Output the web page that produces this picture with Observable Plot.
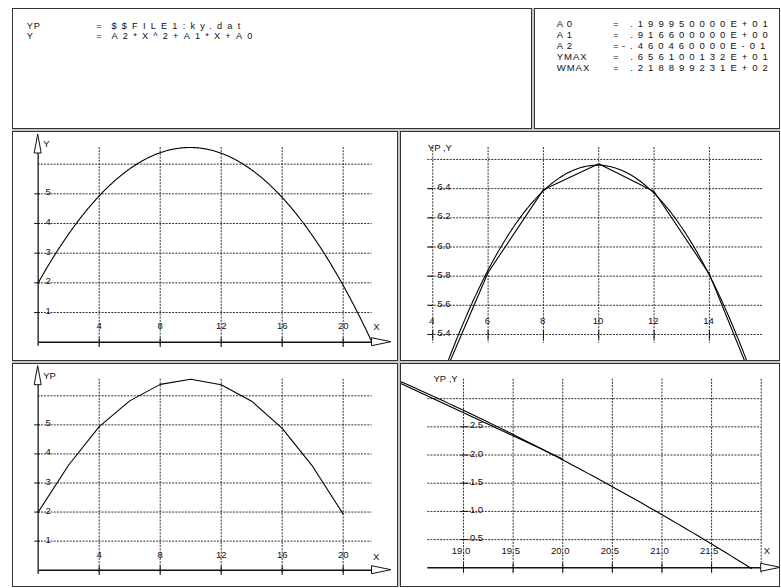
<!DOCTYPE html>
<html>
<head>
<meta charset="utf-8">
<script src="https://cdn.jsdelivr.net/npm/d3@7"></script>
<script src="https://cdn.jsdelivr.net/npm/@observablehq/plot@0.6"></script>
<style>
  html, body { margin: 0; padding: 0; background: #fff; }
  #sheet { position: relative; width: 781px; height: 588px; overflow: hidden; background: #fff; }
  #frame { position: absolute; left: 12px; top: 8px; width: 768px; height: 579px; background: #c6c6c6; }
  .box { position: absolute; box-sizing: border-box; border: 1px solid #333; background: #fff; overflow: hidden; }
  .box svg { position: absolute; left: 0; top: 0; }
  #header { position: absolute; left: 0; top: 0; }
  #header text { font-family: "Liberation Sans", Arial, sans-serif; font-size: 9.5px; fill: #111; }
  #header .def { font-size: 9.2px; }
  #header .name { letter-spacing: 1px; }
  #header .coef { letter-spacing: 3.8px; }
  #header .val { letter-spacing: 5px; }
  #header .def.val { letter-spacing: 5.2px; }
  g[aria-label="decimal tick label"] text { letter-spacing: 4.3px; }
  g[aria-label="title"] text { letter-spacing: 0.8px; }
  g[aria-label="wide title"] text { letter-spacing: 2.6px; }
</style>
</head>
<body>
<div id="sheet"><div id="frame"></div></div>
<script>
// Fitted parabola Y = A2*X^2 + A1*X + A0 and its summary values
const coefficientNames = ["A0", "A1", "A2"];
const coefficients = [1.9995, 0.9166, -0.046046];
const extremaNames = ["YMAX", "WMAX"];
const extrema = [6.56100132, 21.8899231];   // peak of Y, positive root of Y
const definitionNames = ["YP", "Y"];
const definitions = ["$$FILE1:ky.dat", "A2*X^2+A1*X+A0"];

// YP samples from ky.dat
const ypX = [0, 2, 4, 6, 8, 10, 12, 14, 16, 18, 20];
const ypY = [2.0, 3.62, 4.94, 5.825, 6.393, 6.571, 6.38, 5.814, 4.88, 3.57, 1.93];

// Ticks of the full views
const fullXTicks = [4, 8, 12, 16, 20];
const fullYGrid = [1, 2, 3, 4, 5, 6];
const fullYLabels = [1, 2, 3, 4, 5];
// Ticks of the view around the peak
const peakXTicks = [4, 6, 8, 10, 12, 14];
const peakYGrid = [5.4, 5.6, 5.8, 6.0, 6.2, 6.4, 6.6];
const peakYLabels = [5.4, 5.6, 5.8, 6.0, 6.2, 6.4];
// Ticks of the view around the root
const rootXGrid = [19.0, 19.5, 20.0, 20.5, 21.0, 21.5, 22.0];
const rootXLabels = [19.0, 19.5, 20.0, 20.5, 21.0, 21.5];
const rootYGrid = [0.5, 1.0, 1.5, 2.0, 2.5, 3.0];
const rootYLabels = [0.5, 1.0, 1.5, 2.0, 2.5];

// Windows of the two zoomed views
const peakWindowX = [3.82, 15.92], peakWindowY = [5.4, 6.682];
const rootWindowX = [18.64, 22.0], rootWindowY = [0, 3.345];
const curveEnd = 21.93, curveStep = 0.05;

const [A0, A1, A2] = coefficients;
const [YMAX, WMAX] = extrema;
const yCurve = d3.range(0, curveEnd + 1e-9, curveStep).map(x => ({x, y: A2 * x * x + A1 * x + A0}));
const ypPoints = ypX.map((x, i) => ({x, y: ypY[i]}));

// Fortran-style E format: .dddddddddE+ee
function fortranE(v, digits = 9) {
  const sign = v < 0 ? "-" : "";
  const a = Math.abs(v);
  let e = Math.floor(Math.log10(a)) + 1;
  let m = Math.round(a / 10 ** e * 10 ** digits);
  if (m >= 10 ** digits) { m = Math.round(m / 10); e += 1; }
  return sign + "." + String(m).padStart(digits, "0") + "E" + (e < 0 ? "-" : "+") + String(Math.abs(e)).padStart(2, "0");
}

const sheet = d3.select("#sheet");
function box(left, top, w, h) {
  return sheet.append("div").attr("class", "box")
    .style("left", left + "px").style("top", top + "px")
    .style("width", w + "px").style("height", h + "px");
}
box(12, 8, 520, 121);
box(534, 8, 246, 121);
const boxTL = box(12, 131, 386, 230);
const boxTR = box(400, 131, 380, 230);
const boxBL = box(12, 363, 386, 224);
const boxBR = box(400, 363, 380, 224);

// Header text
const header = sheet.append("svg").attr("id", "header").attr("width", 781).attr("height", 130);
definitionNames.forEach((n, i) => {
  const y = 28.9 + i * 10.4;
  header.append("text").attr("class", "def name").attr("x", 26.7).attr("y", y).text(n);
  header.append("text").attr("class", "def").attr("x", 96.2).attr("y", y).text("=");
  header.append("text").attr("class", "def val").attr("x", 111.5).attr("y", y).text(definitions[i]);
});
const parNames = coefficientNames.concat(extremaNames);
const parValues = coefficients.concat(extrema);
parNames.forEach((n, i) => {
  const y = 26.9 + i * 11.07;
  const s = fortranE(parValues[i]);
  header.append("text").attr("class", n.length === 2 ? "coef" : "name").attr("x", 556.7).attr("y", y).text(n);
  header.append("text").attr("x", 612.9).attr("y", y).text("=");
  header.append("text").attr("class", "val").attr("x", s.startsWith("-") ? 621.9 : 630.2).attr("y", y).text(s);
});

// Open arrowheads at the ends of the axes
const arrowUp = (index, {x}, values, {marginTop}) => {
  const cx = x(0), base = marginTop + 6, tip = marginTop - 13;
  return d3.create("svg:path")
    .attr("d", `M${cx - 3.5},${base}L${cx},${tip}L${cx + 3.5},${base}Z`)
    .attr("fill", "#fff").attr("stroke", "#111").attr("stroke-width", 1).node();
};
const arrowRight = (index, {y}, values, {width, marginRight}) => {
  const bx = width - marginRight, cy = y(0);
  return d3.create("svg:path")
    .attr("d", `M${bx},${cy - 4}L${bx + 19.5},${cy}L${bx},${cy + 4}Z`)
    .attr("fill", "#fff").attr("stroke", "#111").attr("stroke-width", 1).node();
};

const fmtInt = d3.format("d"), fmtDec = d3.format(".1f");

function panel(o) {
  const fx = o.xDecimals ? fmtDec : fmtInt;
  const fy = o.yDecimals ? fmtDec : fmtInt;
  const ink = "#111";
  const grid = {stroke: "#1a1a1a", strokeWidth: 0.9, strokeDasharray: "2,1.2"};
  const marks = [
    Plot.ruleY(o.yGrid, grid),
    Plot.ruleX(o.xGrid, {...grid, insetBottom: -o.gridBelow})
  ];
  if (o.xAxis) marks.push(Plot.ruleY([0], {stroke: ink, strokeWidth: 1.4}));
  if (o.yAxis) marks.push(Plot.ruleX([0], {stroke: "#444", strokeWidth: 1.6, insetBottom: -4}));
  marks.push(
    Plot.ruleX(o.xLabels, {y1: () => o.axisRow, y2: () => o.axisRow, insetTop: -4, insetBottom: -5, stroke: ink}),
    Plot.ruleY(o.yLabels, {x1: () => o.labelX, x2: () => o.labelX, insetLeft: -o.tick[0], insetRight: -o.tick[1], stroke: ink}),
    Plot.text(o.yLabels, {x: () => o.labelX, y: d => d, text: fy, textAnchor: "start", dx: o.yLabelDx, dy: -1.5, fill: ink,
      ariaLabel: o.yDecimals ? "decimal tick label" : "tick label"}),
    Plot.text(o.xLabels, {x: d => d, y: () => o.axisRow, text: fx, textAnchor: o.xLabelAnchor, dx: o.xLabelDx, dy: o.xLabelDy, fill: ink,
      ariaLabel: o.xDecimals ? "decimal tick label" : "tick label"}),
    Plot.text([o.yTitle], {frameAnchor: "top-left", textAnchor: "start", dx: o.yTitleDx, dy: o.yTitleDy, fill: ink, ariaLabel: o.titleAria})
  );
  if (o.xTitle) marks.push(Plot.text(["X"], {y: () => 0, frameAnchor: "right", dx: o.xTitle[0], dy: o.xTitle[1], fill: ink, ariaLabel: "title"}));
  for (const s of o.series) marks.push(Plot.line(s, {x: "x", y: "y", stroke: "#000", strokeWidth: 1.1}));
  if (o.yAxis) marks.push(arrowUp);
  if (o.xTitle) marks.push(arrowRight);
  const svg = Plot.plot({
    width: o.width, height: o.height,
    marginTop: o.margin[0], marginRight: o.margin[1], marginBottom: o.margin[2], marginLeft: o.margin[3],
    x: {domain: o.xDomain, axis: null},
    y: {domain: o.yDomain, axis: null},
    style: {background: "transparent", fontFamily: '"Liberation Sans", Arial, sans-serif', fontSize: "9.5px", color: "#111"},
    marks
  });
  o.host.append(() => svg);
}

// Y over its whole positive range
panel({
  host: boxTL, width: 384, height: 228, margin: [15, 25.5, 18.3, 24.7],
  xDomain: [0, WMAX], yDomain: [0, YMAX],
  xGrid: fullXTicks, yGrid: fullYGrid, xLabels: fullXTicks, yLabels: fullYLabels,
  axisRow: 0, labelX: 0, tick: [3.5, 2], gridBelow: 5, xDecimals: false, yDecimals: false,
  yLabelDx: 7.3, xLabelAnchor: "middle", xLabelDx: 0, xLabelDy: -16.2,
  xAxis: true, yAxis: true, yTitle: "Y", yTitleDx: 5, yTitleDy: -7, titleAria: "title",
  xTitle: [7.5, -15.5], series: [yCurve]
});

// Y and YP around the peak
panel({
  host: boxTR, width: 378, height: 228, margin: [15, 17, 26, 26.3],
  xDomain: peakWindowX, yDomain: peakWindowY,
  xGrid: peakXTicks, yGrid: peakYGrid, xLabels: peakXTicks, yLabels: peakYLabels,
  axisRow: peakWindowY[0], labelX: peakXTicks[0], tick: [4.5, 1], gridBelow: 9, xDecimals: false, yDecimals: true,
  yLabelDx: 4.6, xLabelAnchor: "middle", xLabelDx: -0.8, xLabelDy: -14,
  xAxis: false, yAxis: false, yTitle: "YP ,Y", yTitleDx: 0, yTitleDy: -3.7, titleAria: "wide title",
  xTitle: null, series: [yCurve, ypPoints]
});

// YP over its whole range
panel({
  host: boxBL, width: 384, height: 222, margin: [14.7, 25.5, 16.3, 24.7],
  xDomain: [0, WMAX], yDomain: [0, d3.max(ypY)],
  xGrid: fullXTicks, yGrid: fullYGrid, xLabels: fullXTicks, yLabels: fullYLabels,
  axisRow: 0, labelX: 0, tick: [3.5, 2], gridBelow: 5, xDecimals: false, yDecimals: false,
  yLabelDx: 7.3, xLabelAnchor: "middle", xLabelDx: 0, xLabelDy: -15.5,
  xAxis: true, yAxis: true, yTitle: "YP", yTitleDx: 5, yTitleDy: -7.4, titleAria: "title",
  xTitle: [7.3, -13.6], series: [ypPoints]
});

// Y and YP around the root
panel({
  host: boxBR, width: 378, height: 222, margin: [14.7, 18.3, 18.7, 26.3],
  xDomain: rootWindowX, yDomain: rootWindowY,
  xGrid: rootXGrid, yGrid: rootYGrid, xLabels: rootXLabels, yLabels: rootYLabels,
  axisRow: 0, labelX: rootXLabels[0], tick: [2.5, 5.5], gridBelow: 7, xDecimals: true, yDecimals: true,
  yLabelDx: 6.4, xLabelAnchor: "start", xLabelDx: -11.7, xLabelDy: -16.6,
  xAxis: true, yAxis: false, yTitle: "YP ,Y", yTitleDx: 5.7, yTitleDy: -4, titleAria: "wide title",
  xTitle: [9, -16.6], series: [yCurve, ypPoints]
});
</script>
</body>
</html>
